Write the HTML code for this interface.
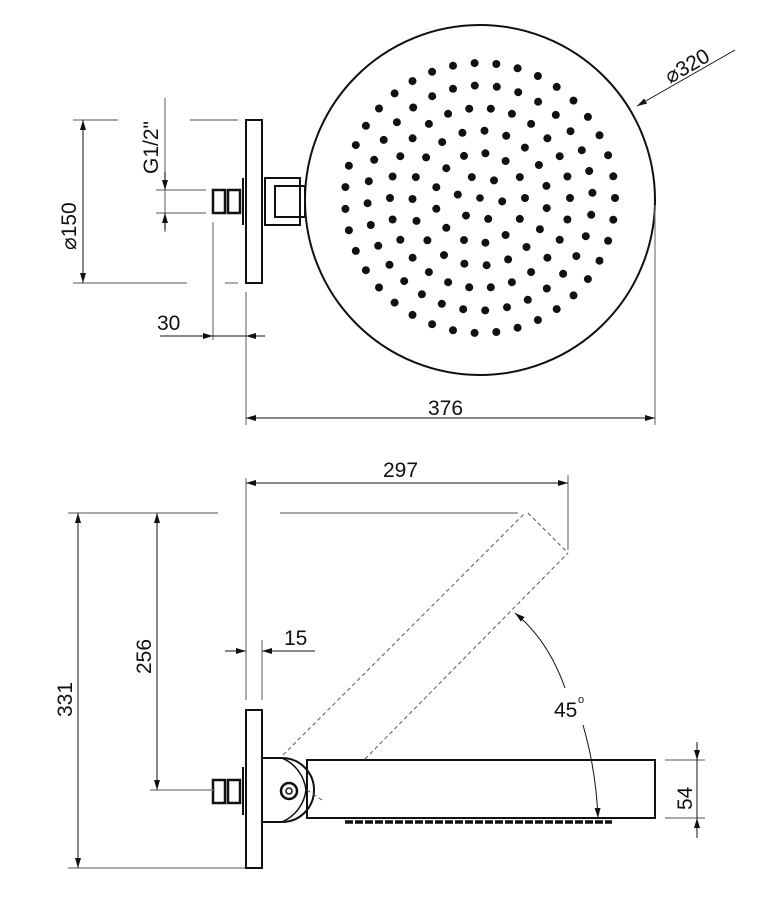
<!DOCTYPE html>
<html><head><style>
html,body{margin:0;padding:0;background:#fff}
svg{display:block}
text{font-family:"Liberation Sans",sans-serif;fill:#111}
</style></head><body>
<svg width="779" height="900" viewBox="0 0 779 900" xmlns="http://www.w3.org/2000/svg">
<defs>
<marker id="a" viewBox="0 0 10 6" refX="10" refY="3" markerWidth="10" markerHeight="6" orient="auto-start-reverse" markerUnits="userSpaceOnUse"><path d="M0,0 L10,3 L0,6z" fill="#111"/></marker>
</defs>
<g stroke="#111" fill="none">
<circle cx="480" cy="200" r="175" stroke-width="2"/>
<rect x="246" y="120" width="16" height="163" stroke-width="2" fill="#fff"/>
<rect x="213" y="190" width="12" height="23" stroke-width="2.5"/>
<rect x="228" y="190" width="12" height="23" stroke-width="2.5"/>
<line x1="243" y1="178" x2="243" y2="225" stroke-width="2"/>
<rect x="265" y="178" width="35" height="47" stroke-width="2"/>
<rect x="275" y="186" width="30" height="31" stroke-width="2"/>
<g stroke="#777" stroke-width="1.2">
<line x1="73" y1="120" x2="118" y2="120"/><line x1="190" y1="120" x2="238" y2="120"/>
<line x1="73" y1="283" x2="187" y2="283"/><line x1="225" y1="283" x2="238" y2="283"/>
<line x1="156" y1="190" x2="206" y2="190"/><line x1="156" y1="213" x2="206" y2="213"/>
<line x1="213" y1="222" x2="213" y2="340"/><line x1="246" y1="292" x2="246" y2="425"/>
<line x1="655" y1="205" x2="655" y2="425"/>
<line x1="165" y1="98" x2="165" y2="232"/>
</g>
<line x1="83" y1="120" x2="83" y2="283" stroke-width="1" marker-start="url(#a)" marker-end="url(#a)"/>
<line x1="165" y1="172" x2="165" y2="190" stroke-width="1" marker-end="url(#a)"/>
<line x1="165" y1="230" x2="165" y2="213" stroke-width="1" marker-end="url(#a)"/>
<line x1="160" y1="336" x2="213" y2="336" stroke-width="1" marker-end="url(#a)"/>
<line x1="265" y1="336" x2="246" y2="336" stroke-width="1" marker-end="url(#a)"/>
<line x1="213" y1="336" x2="246" y2="336" stroke-width="1"/>
<line x1="246" y1="418" x2="655" y2="418" stroke-width="1" marker-start="url(#a)" marker-end="url(#a)"/>
<line x1="735" y1="50" x2="637" y2="106" stroke-width="1" marker-end="url(#a)"/>
<rect x="246" y="710" width="16" height="158" stroke-width="2" fill="#fff"/>
<rect x="213" y="780" width="12" height="23" stroke-width="2.5"/>
<rect x="228" y="780" width="12" height="23" stroke-width="2.5"/>
<line x1="243" y1="767" x2="243" y2="815" stroke-width="2"/>
<path d="M262,758 L282,758 A32,32 0 0 1 282,822 L262,822" stroke-width="2"/>
<path d="M282,758 A40,40 0 0 1 306,790 A40,40 0 0 1 282,822" stroke-width="1.5"/>
<circle cx="289" cy="791" r="8" stroke-width="2.5"/>
<circle cx="289" cy="791" r="3" stroke-width="1.5"/>
<rect x="307" y="760" width="348" height="58" stroke-width="2"/>
<line x1="345" y1="822" x2="612" y2="822" stroke-width="3.5" stroke-dasharray="8,2"/>
<g stroke="#555" stroke-width="1" stroke-dasharray="4,3">
<line x1="283" y1="755" x2="525" y2="513"/>
<line x1="365" y1="759" x2="568" y2="553"/>
<line x1="528" y1="513" x2="568" y2="553"/>
<line x1="307" y1="790" x2="322" y2="800"/>
</g>
<g stroke="#777" stroke-width="1.2">
<line x1="280" y1="513" x2="518" y2="513"/>
<line x1="68" y1="513" x2="218" y2="513"/>
<line x1="68" y1="868" x2="245" y2="868"/>
<line x1="150" y1="790" x2="215" y2="790"/>
<line x1="246" y1="478" x2="246" y2="700"/>
<line x1="262" y1="640" x2="262" y2="700"/>
<line x1="568" y1="475" x2="568" y2="550"/>
<line x1="665" y1="760" x2="705" y2="760"/>
<line x1="665" y1="818" x2="705" y2="818"/>
</g>
<line x1="246" y1="483" x2="568" y2="483" stroke-width="1" marker-start="url(#a)" marker-end="url(#a)"/>
<line x1="78" y1="513" x2="78" y2="868" stroke-width="1" marker-start="url(#a)" marker-end="url(#a)"/>
<line x1="157" y1="513" x2="157" y2="790" stroke-width="1" marker-start="url(#a)" marker-end="url(#a)"/>
<line x1="225" y1="651" x2="246" y2="651" stroke-width="1" marker-end="url(#a)"/>
<line x1="315" y1="651" x2="262" y2="651" stroke-width="1" marker-end="url(#a)"/>
<line x1="697" y1="742" x2="697" y2="760" stroke-width="1" marker-end="url(#a)"/>
<line x1="697" y1="838" x2="697" y2="818" stroke-width="1" marker-end="url(#a)"/>
<line x1="697" y1="760" x2="697" y2="818" stroke-width="1"/>
<path d="M565,688 Q548,640 515,613" stroke-width="1" marker-end="url(#a)"/>
<path d="M583,725 Q596,770 598,818" stroke-width="1" marker-end="url(#a)"/>
</g>
<g id="dots" fill="#111"></g>
<g font-size="21">
<text x="0" y="0" transform="translate(158,174) rotate(-90)">G1/2"</text>
<text x="0" y="0" transform="translate(76,250) rotate(-90)">⌀150</text>
<text x="157" y="330">30</text>
<text x="428" y="415">376</text>
<text x="0" y="0" transform="translate(670,84) rotate(-30)">⌀320</text>
<text x="383" y="477">297</text>
<text x="0" y="0" transform="translate(72,717) rotate(-90)">331</text>
<text x="0" y="0" transform="translate(151,674) rotate(-90)">256</text>
<text x="284" y="645">15</text>
<text x="554" y="717">45</text><text x="578" y="703" font-size="11">o</text>
<text x="0" y="0" transform="translate(692,810) rotate(-90)">54</text>
</g>
</svg>
<script>
var g=document.getElementById('dots'),s='';
var cx=480,cy=198;
s+='<circle cx="'+cx+'" cy="'+cy+'" r="3.8"/>';
for(var k=1;k<=6;k++){var r=k*22.5,n=Math.round(2*Math.PI*r/22);
for(var i=0;i<n;i++){var t=2*Math.PI*i/n+(k%2?0.15:0);
s+='<circle cx="'+(cx+r*Math.cos(t)).toFixed(1)+'" cy="'+(cy+r*Math.sin(t)).toFixed(1)+'" r="4"/>';}}
g.innerHTML=s;
</script>
</body></html>
